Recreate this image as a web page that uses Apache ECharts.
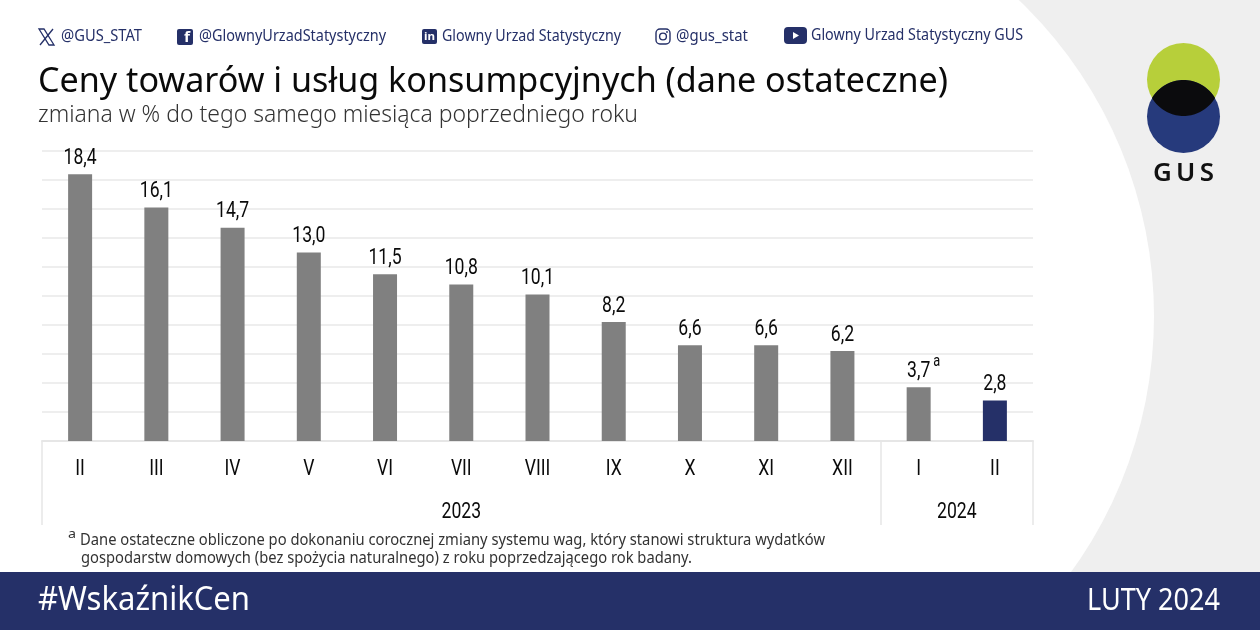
<!DOCTYPE html>
<html><head><meta charset="utf-8">
<style>html,body{margin:0;padding:0;background:#fff}#c{width:1260px;height:630px}</style>
<script src="https://cdn.jsdelivr.net/npm/echarts@6/dist/echarts.min.js"></script>
</head><body><div id="c"></div>
<script>
const months = ['II','III','IV','V','VI','VII','VIII','IX','X','XI','XII','I','II'];
const values = [18.4,16.1,14.7,13.0,11.5,10.8,10.1,8.2,6.6,6.6,6.2,3.7,2.8];
const footnoted = [11];
const yearLabels = ['2023','2024'];
const yearCentres = [5.5,12];
const yearEdges = [0,11,13];
const NAVY='#253068', GREY='#808080', INK='#0a0a0a';
const SANS='"Noto Sans"', LABEL_FONT='Roboto';
const LABEL_SIZE=22, SQUEEZE=0.8;

const mctx=document.createElement('canvas').getContext('2d');
function fit(text,x,yMid,target,size,color,family,weight){
  const w=weight||'normal', f=family||SANS;
  mctx.font=`${w} ${size}px ${f}`;
  const m=mctx.measureText(text).width;
  return {type:'text',x:x,y:yMid,scaleX:target/m,originX:0,originY:0,silent:true,z:10,
    style:{text:text,fill:color,fontSize:size,fontFamily:f,fontWeight:w,verticalAlign:'middle',align:'left'}};
}
const rect=(x,y,w,h,fill,r)=>({type:'rect',silent:true,shape:{x,y,width:w,height:h,r:r||0},style:{fill}});
const lens=[];
for(let i=0;i<=40;i++){const a=Math.PI*(210+120*i/40)/180;lens.push([1183.5+36.5*Math.cos(a),116.5+36.5*Math.sin(a)]);}
for(let i=0;i<=40;i++){const a=Math.PI*(30+120*i/40)/180;lens.push([1183.5+36.5*Math.cos(a),79.5+36.5*Math.sin(a)]);}
const bg=[
  rect(0,0,1260,630,'#efefef'),
  rect(0,0,717,572,'#ffffff'),
  {type:'circle',silent:true,shape:{cx:717,cy:316,r:437},style:{fill:'#fff'}},
  rect(0,572,1260,58,NAVY),
  {type:'circle',silent:true,shape:{cx:1183.5,cy:79.5,r:36.5},style:{fill:'#b7cf3a'}},
  {type:'circle',silent:true,shape:{cx:1183.5,cy:116.5,r:36.5},style:{fill:'#263a7c'}},
  {type:'polygon',silent:true,shape:{points:lens},style:{fill:'#0b0b0d'}}
];
const icons=[
  {type:'polygon',silent:true,shape:{points:[[39,29],[44,29],[54,45],[49,45]]},style:{fill:'none',stroke:NAVY,lineWidth:1.3}},
  {type:'line',silent:true,shape:{x1:53,y1:29,x2:40,y2:45},style:{stroke:NAVY,lineWidth:1.3}},
  rect(177,29,16,16,NAVY,2),
  fit('f',184,38,6,14,'#fff',SANS,'bold'),
  rect(422,29,15,15,NAVY,2),
  fit('in',424,37,11,11,'#fff',SANS,'bold'),
  {type:'rect',silent:true,shape:{x:656,y:29,width:14,height:15,r:4},style:{fill:'none',stroke:NAVY,lineWidth:1.4}},
  {type:'circle',silent:true,shape:{cx:663,cy:36.5,r:3.4},style:{fill:'none',stroke:NAVY,lineWidth:1.4}},
  {type:'circle',silent:true,shape:{cx:667,cy:32,r:0.9},style:{fill:NAVY}},
  rect(784,27,23,17,NAVY,4),
  {type:'polygon',silent:true,shape:{points:[[793,32],[793,39],[799,35.5]]},style:{fill:'#fff'}}
];
const texts=[
  fit('@GUS_STAT',61,36,81,17,NAVY),
  fit('@GlownyUrzadStatystyczny',199,36,187,17,NAVY),
  fit('Glowny Urzad Statystyczny',442,36,179,17,NAVY),
  fit('@gus_stat',676,36,72,17,NAVY),
  fit('Glowny Urzad Statystyczny GUS',811,35,212,17,NAVY),
  fit('Ceny towarów i usług konsumpcyjnych (dane ostateczne)',38,82,910,34,INK),
  fit('zmiana w % do tego samego miesiąca poprzedniego roku',38,115,600,24,'#333',SANS,'300'),
  fit('a',68,534,8,13,'#333'),
  fit('Dane ostateczne obliczone po dokonaniu corocznej zmiany systemu wag, który stanowi struktura wydatków',80,540,745,16,'#333'),
  fit('gospodarstw domowych (bez spożycia naturalnego) z roku poprzedzającego rok badany.',81,558,611,16,'#333'),
  fit('#WskaźnikCen',38,601,212,33,'#fff'),
  fit('LUTY 2024',1087,601,133,30,'#fff'),
  fit('G\u2009U\u2009S',1153,174,61,25,'#111',SANS,'600')
];
const txt=(t,x,y,size)=>({type:'text',x:x,y:y,scaleX:SQUEEZE,
  style:{text:t,fill:INK,fontSize:size,fontFamily:LABEL_FONT,align:'center',verticalAlign:'middle'}});
const chart=echarts.init(document.getElementById('c'),null,{renderer:'canvas'});
chart.setOption({
  animation:false,
  backgroundColor:'#fff',
  graphic:{elements:[...bg.map(e=>({...e,z:-10})),...icons.map(e=>({...e,z:10})),...texts]},
  grid:{left:42,right:227,top:151,bottom:189,containLabel:false},
  xAxis:[
    {type:'category',data:months,position:'bottom',
     axisLine:{show:true,lineStyle:{color:'#e6e6e6',width:2}},axisTick:{show:false},axisLabel:{show:false}},
    {type:'value',min:0,max:13,position:'bottom',splitLine:{show:false},axisLine:{show:false},
     axisTick:{show:true,customValues:yearEdges,length:84,lineStyle:{color:'#e6e6e6',width:1.5}},
     axisLabel:{show:false}}
  ],
  yAxis:{type:'value',min:0,max:20,interval:2,axisLine:{show:false},axisTick:{show:false},axisLabel:{show:false},
    splitLine:{lineStyle:{color:'#e9e9e9',width:1.5}}},
  series:[
   {type:'bar',xAxisIndex:0,barWidth:24,z:5,
    data:values.map((v,i)=>({value:v,itemStyle:{color:i===values.length-1?NAVY:GREY}}))},
   {type:'custom',name:'wartości',xAxisIndex:0,z:6,silent:true,clip:false,
    data:values.map((v,i)=>[i,v]),
    renderItem:(p,api)=>{const i=api.value(0),v=api.value(1),c=api.coord([i,v]);
      const s=v.toFixed(1).replace('.',',');
      const kids=[txt(s,c[0],c[1]-16,LABEL_SIZE)];
      if(footnoted.includes(i)) kids.push(txt('a',c[0]+18,c[1]-25,16));
      return {type:'group',children:kids};}},
   {type:'custom',name:'miesiące',xAxisIndex:0,z:6,silent:true,clip:false,
    data:months.map((m,i)=>[i,0]),
    renderItem:(p,api)=>{const c=api.coord([api.value(0),0]);return txt(months[p.dataIndex],c[0],c[1]+28,LABEL_SIZE);}},
   {type:'custom',name:'lata',xAxisIndex:1,z:6,silent:true,clip:false,
    data:yearCentres.map(x=>[x,0]),
    renderItem:(p,api)=>{const c=api.coord([api.value(0),0]);return txt(yearLabels[p.dataIndex],c[0],c[1]+71,LABEL_SIZE);}}
  ]
});
</script></body></html>
